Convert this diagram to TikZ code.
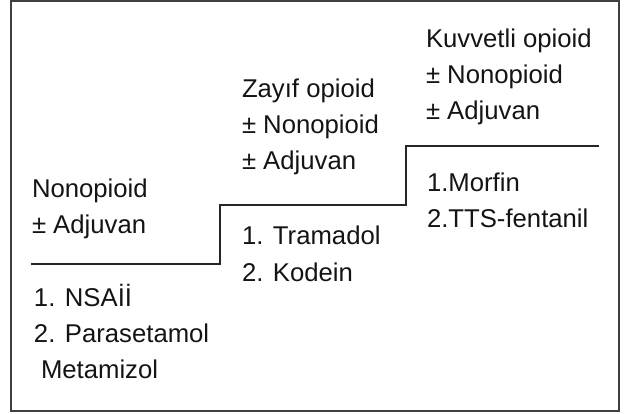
\documentclass[tikz,border=0pt]{standalone}
\usepackage{fontspec}
\setmainfont{Liberation Sans}
\begin{document}
\begin{tikzpicture}[x=1pt,y=-1pt,
  lbl/.style={anchor=base west,inner sep=0pt,outer sep=0pt,text=black!92,font=\fontsize{25.7}{30}\selectfont},
  stair/.style={draw=black!85,line width=1.4pt},
  frame/.style={draw=black!75,line width=2pt}]
\useasboundingbox (0,0) rectangle (627,414);
\draw[frame] (11,1) rectangle (619,411);
% stairs
\coordinate (s0) at (31,264);
\coordinate (s1) at (220,264);
\coordinate (s2) at (220,205);
\coordinate (s3) at (406,205);
\coordinate (s4) at (406,146);
\coordinate (s5) at (599,146);
\draw[stair] (s0) -- (s1) -- (s2) -- (s3) -- (s4) -- (s5);
% step 3
\node[lbl] (k1) at (426,48) {Kuvvetli opioid};
\node[lbl] (k2) at (426,84) {± Nonopioid};
\node[lbl] (k3) at (426,120) {± Adjuvan};
\node[lbl] (m1) at (427,192) {1.Morfin};
\node[lbl] (m2) at (427,228) {2.TTS-fentanil};
% step 2
\node[lbl] (z1) at (242,98) {Zayıf opioid};
\node[lbl] (z2) at (242,134) {± Nonopioid};
\node[lbl] (z3) at (242,170) {± Adjuvan};
\node[lbl] (t1) at (242,245) {1. Tramadol};
\node[lbl] (t2) at (242,282) {2. Kodein};
% step 1
\node[lbl] (n1) at (32,198) {Nonopioid};
\node[lbl] (n2) at (32,234) {± Adjuvan};
\node[lbl] (p1) at (34,306) {1. NSAİİ};
\node[lbl] (p2) at (34,342) {2. Parasetamol};
\node[lbl] (p3) at (41,378) {Metamizol};
\end{tikzpicture}
\end{document}
